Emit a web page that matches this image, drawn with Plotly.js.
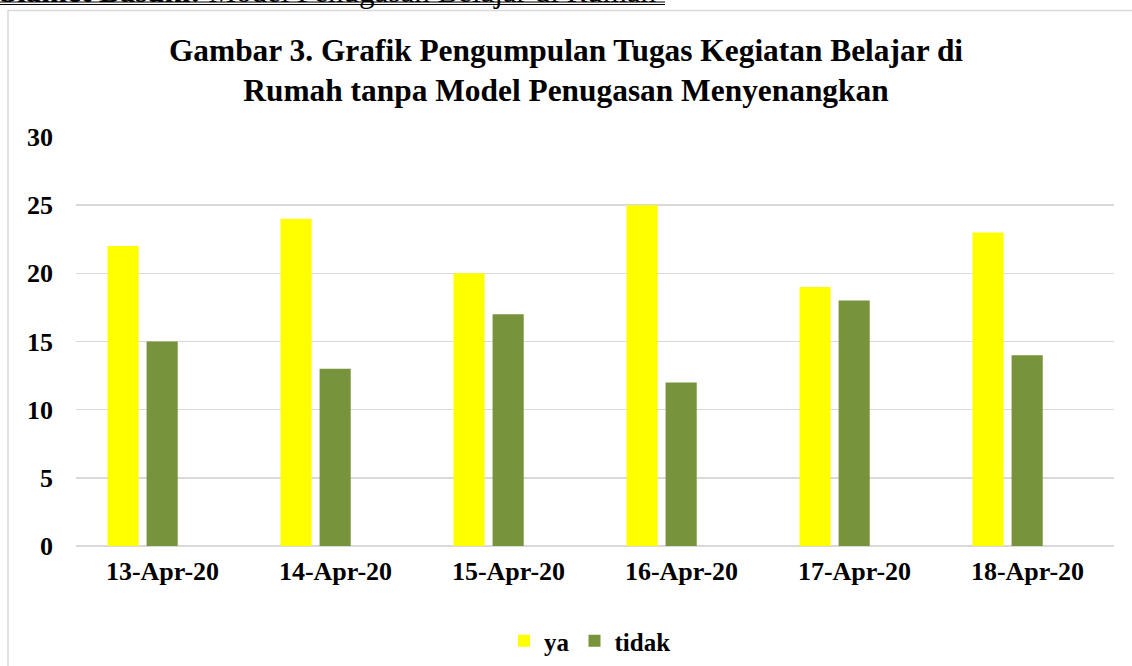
<!DOCTYPE html>
<html>
<head>
<meta charset="utf-8">
<script src="https://cdn.plot.ly/plotly-3.0.1.min.js"></script>
<style>html,body{margin:0;padding:0;background:#fff;}#chart{width:1132px;height:666px;}</style>
</head>
<body>
<div id="chart"></div>
<script>
const categories = ["13-Apr-20", "14-Apr-20", "15-Apr-20", "16-Apr-20", "17-Apr-20", "18-Apr-20"];
const yaValues = [22, 24, 20, 25, 19, 23];
const tidakValues = [15, 13, 17, 12, 18, 14];
const seriesNames = ["ya", "tidak"];
const yTickValues = [0, 5, 10, 15, 20, 25, 30];

const serif = "'Liberation Serif', 'Times New Roman', serif";

// pixel helpers (plot area: x 76..1114, y 137..546)
const px = x => (x - 76) / 1038;
const py = y => (546 - y) / 409;

const traces = [
  {type: "bar", name: seriesNames[0], x: categories, y: yaValues,
   marker: {color: "#FFFF00"}, width: 0.18, offset: -0.318},
  {type: "bar", name: seriesNames[1], x: categories, y: tidakValues,
   marker: {color: "#77933C"}, width: 0.18, offset: -0.092}
];

const layout = {
  width: 1132, height: 666,
  margin: {l: 76, r: 18, t: 137, b: 120, autoexpand: false},
  paper_bgcolor: "#ffffff", plot_bgcolor: "#ffffff",
  barmode: "group",
  showlegend: true,
  font: {family: serif, color: "#000000"},
  title: {
    text: "Gambar 3. Grafik Pengumpulan Tugas Kegiatan Belajar di<br>Rumah tanpa Model Penugasan Menyenangkan",
    font: {family: serif, size: 31.4, color: "#000000", weight: "bold"},
    x: 0.5, xref: "container", xanchor: "center",
    y: 1 - 60.5/666, yref: "container", yanchor: "top"
  },
  xaxis: {
    type: "category",
    showgrid: false, zeroline: false,
    showline: false, ticks: "",
    tickfont: {family: serif, size: 26, color: "#000000", weight: "bold"},
    ticklabelstandoff: 7,
    fixedrange: true
  },
  yaxis: {
    range: [0, 30],
    tickvals: yTickValues,
    ticktext: yTickValues.map(String),
    showgrid: true, gridcolor: "#d9d9d9", gridwidth: 1.5,
    zeroline: true, zerolinecolor: "#d9d9d9", zerolinewidth: 1.5,
    showline: false, ticks: "",
    tickfont: {family: serif, size: 26, color: "#000000", weight: "bold"},
    ticklabelstandoff: 22,
    fixedrange: true
  },
  legend: {
    orientation: "h",
    x: px(590), xanchor: "center",
    y: py(641), yanchor: "middle",
    font: {family: serif, size: 25, color: "#000000", weight: "bold"},
    itemwidth: 30, traceorder: "normal",
    bgcolor: "rgba(0,0,0,0)"
  },
  shapes: [
    {type: "rect", xref: "paper", yref: "paper",
     x0: px(8), x1: 1.2, y0: -0.6, y1: py(10.5),
     line: {color: "#d9d9d9", width: 1.5}, fillcolor: "rgba(0,0,0,0)", layer: "below"},
    {type: "line", xref: "paper", yref: "paper",
     x0: px(0), x1: px(665), y0: py(2), y1: py(2),
     line: {color: "#000000", width: 1}},
    {type: "line", xref: "paper", yref: "paper",
     x0: px(0), x1: px(665), y0: py(4.5), y1: py(4.5),
     line: {color: "#000000", width: 1}}
  ],
  annotations: [
    {xref: "paper", yref: "paper", x: px(-2), y: py(11.5),
     xanchor: "left", yanchor: "bottom", showarrow: false,
     text: "<b>Slamet Basuki:</b> Model Penugasan Belajar di Rumah",
     font: {family: serif, size: 31, color: "#000000"}}
  ]
};

Plotly.newPlot("chart", traces, layout, {displayModeBar: false, staticPlot: true});
</script>
</body>
</html>
